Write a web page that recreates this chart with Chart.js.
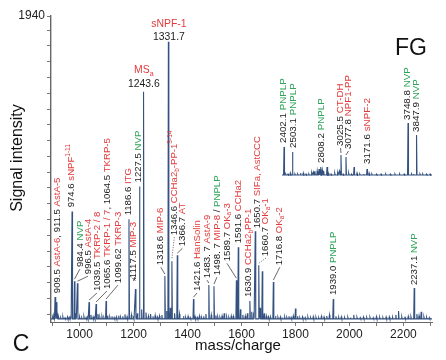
<!DOCTYPE html>
<html>
<head>
<meta charset="utf-8">
<script src="https://cdn.jsdelivr.net/npm/chart.js@4.4.1/dist/chart.umd.min.js"></script>
<style>
  html, body { margin: 0; padding: 0; background: #fff; }
  #wrap { position: relative; width: 446px; height: 360px; }
  #main { position: absolute; left: 0; top: 0; }
  #inset { position: absolute; left: 270px; top: 40px; }
</style>
</head>
<body>
<div id="wrap">
  <canvas id="main" width="446" height="360"></canvas>
  <canvas id="inset" width="176" height="140"></canvas>
</div>
<script>
// ---- main spectrum (m/z 900-2300) ----
const peakMz  = [909, 914, 972, 981, 992, 1035, 1061, 1098, 1183, 1207, 1222, 1237, 1316, 1329,
                 1342, 1362, 1422, 1479, 1498, 1581, 1588, 1631, 1651, 1664, 1677, 1718, 1940, 2240];
const peakInt = [158, 126, 701, 259, 246, 126, 114, 133, 651, 209, 859, 1460, 291, 1776,
                 385, 423, 145, 234, 227, 265, 474, 133, 575, 360, 322, 253, 145, 215];

// small peaks of the baseline, [m/z, intensity]
const mainNoise = [
  [900,30],[905,38],[918,45],[922,32],[930,28],[938,34],[946,27],[955,33],[962,29],[967,40],
  [986,55],[1000,32],[1008,28],[1016,35],[1024,29],[1030,40],[1042,45],[1050,32],[1056,36],
  [1068,50],[1075,32],[1083,34],[1090,29],[1104,40],[1112,32],[1120,36],[1128,29],[1136,33],
  [1145,40],[1152,30],[1160,36],[1168,48],[1176,34],[1192,45],[1200,36],[1214,55],[1230,80],
  [1246,60],[1255,38],[1263,50],[1272,36],[1280,42],[1288,32],[1296,38],[1305,44],[1322,70],
  [1336,90],[1352,55],[1370,50],[1385,38],[1393,30],[1402,36],[1410,28],[1428,34],[1436,30],
  [1444,38],[1452,29],[1460,36],[1468,50],[1488,45],[1505,42],[1512,33],[1520,30],[1528,38],
  [1536,55],[1545,33],[1553,30],[1562,38],[1570,36],[1596,80],[1605,45],[1614,38],[1622,55],
  [1638,65],[1645,60],[1669,90],[1684,55],[1692,38],[1700,33],[1708,30],[1726,38],[1735,30],
  [1744,33],[1752,28],[1760,32],[1768,29],[1776,36],[1784,30],[1792,38],[1800,85],[1808,36],
  [1816,28],[1826,33],[1836,29],[1846,32],[1856,28],[1866,34],[1876,30],[1886,28],[1896,36],
  [1906,32],[1916,38],[1926,45],[1950,36],[1960,30],[1970,33],[1982,28],[1994,30],[2004,29],
  [2016,45],[2028,30],[2040,28],[2052,32],[2064,29],[2076,30],[2088,28],[2100,34],[2112,30],
  [2124,28],[2136,32],[2148,33],[2160,30],[2172,45],[2182,70],[2194,33],[2206,30],[2218,36],
  [2228,33],[2250,50],[2258,40],[2266,65],[2276,33],[2286,30],[2296,28]
];
const mainBase = 20;

const xTicks = [900, 1000, 1100, 1200, 1300, 1400, 1500, 1600, 1700, 1800, 1900, 2000, 2100, 2200, 2300];
const xTickLabels = ['1000', '1200', '1400', '1600', '1800', '2000', '2200'];
const yTicks = [1940, 1850, 1750, 1650, 1550, 1450, 1350, 1250, 1150, 1050, 950, 850, 750,
                650, 550, 450, 350, 250, 150, 50];
const yTickLabels = ['1940'];

// ---- inset spectrum (m/z 2400-4000) ----
const insetMz  = [2402, 2493, 2801, 3017, 3071, 3158, 3298, 3741, 3833];
const insetInt = [29, 24, 9, 21, 19, 9, 7, 53, 41];
const insetNoise = [
  [2420,2],[2445,2],[2470,3],[2520,2],[2550,2],[2580,3],[2610,3],[2640,2],[2670,2],[2700,3],
  [2718,4],[2735,5],[2760,5],[2780,7],[2790,5],[2815,6],[2830,5],[2866,9],[2880,3],[2910,2],
  [2950,3],[2980,3],[3000,5],[3040,2],[3100,3],[3130,2],[3190,3],[3220,2],[3260,2],[3320,3],
  [3350,2],[3400,2],[3450,2],[3500,2],[3550,2],[3600,2],[3650,2],[3700,2],[3780,2],[3800,2],
  [3870,2],[3900,2],[3940,2],[3980,2]
];
const insetBase = 1;

// ---- peak labels (text layout, anchored in data units) ----
const mainLabels = [
  {peak: 0,  at: [918, 183],  parts: [['909.5 '], ['AstA-6', 'r'], [', 911.5 '], ['AstA-5', 'r']]},
  {peak: 2,  at: [970, 727],  parts: [['974.6 '], ['sNPF', 'r'], ['1-11', 'r', 'sup']]},
  {peak: 3,  at: [1001, 348], lead: 1, parts: [['984.4 '], ['NVP', 'g']]},
  {peak: 4,  at: [1031, 303], lead: 1, parts: [['996.5 '], ['AstA-4', 'r']]},
  {peak: 5,  at: [1064, 196], lead: 1, parts: [['1039.5 '], ['TKRP-2 / 8', 'r']]},
  {peak: 6,  at: [1101, 209], lead: 1, parts: [['1065.6 '], ['TKRP-1 / 7', 'r'], [', 1064.5 '], ['TKRP-5', 'r']]},
  {peak: 7,  at: [1142, 246], lead: 1, parts: [['1099.62 '], ['TKRP-3', 'r']]},
  {peak: 9,  at: [1198, 278], parts: [['1117.5 '], ['MIP-3', 'r']]},
  {peak: 8,  at: [1179, 676], parts: [['1186.6 '], ['ITG', 'r']]},
  {peak: 10, at: [1216, 885], parts: [['1227.5 '], ['NVP', 'g']]},
  {peak: 12, at: [1301, 360], lead: 1, parts: [['1318.6 '], ['MIP-6', 'r']]},
  {peak: 14, at: [1351, 550], lead: 2, parts: [['1346.6 '], ['CCHa2', 'r'], ['b', 'r', 'sub'], ['-PP-1', 'r'], ['3-14', 'r', 'sup']]},
  {peak: 15, at: [1381, 480], lead: 1, parts: [['1366.7 '], ['AT', 'r']]},
  {peak: 16, at: [1435, 196], lead: 1, parts: [['1421.6 '], ['HanSolin', 'r']]},
  {peak: 17, at: [1472, 278], lead: 1, parts: [['1483. 7 '], ['AstA-9', 'r']]},
  {peak: 18, at: [1509, 297], lead: 1, parts: [['1498. 7 '], ['MIP-8', 'r'], [' / '], ['PNPLP', 'g']]},
  {peak: 19, at: [1546, 385], lead: 1, parts: [['1589.7 '], ['OK', 'r'], ['a', 'r', 'sub'], ['-3', 'r']]},
  {peak: 20, at: [1590, 499], parts: [['1591.6 '], ['CCHa2', 'r']]},
  {peak: 21, at: [1627, 158], parts: [['1630.9 '], ['CCHa2', 'r'], ['b', 'r', 'sub'], ['PP-1', 'r']]},
  {peak: 22, at: [1657, 594], parts: [['1650.7 '], ['SIFa, AstCCC', 'r']]},
  {peak: 23, at: [1690, 417], lead: 2, parts: [['1660.7 '], ['OK', 'r'], ['a', 'r', 'sub'], ['-1', 'r']]},
  {peak: 25, at: [1742, 360], lead: 1, parts: [['1716.8 '], ['OK', 'r'], ['a', 'r', 'sub'], ['-2', 'r']]},
  {peak: 26, at: [1940, 171], parts: [['1939.0 '], ['PNPLP', 'g']]},
  {peak: 27, at: [2242, 234], parts: [['2237.1 '], ['NVP', 'g']]},
  {flat: 1,  at: [1203, 235], parts: [['*']]},
  {flat: 1,  at: [1238, 1490], parts: [['1243.6']]},
  {flat: 1,  at: [1238, 1578], parts: [['MS', 'r'], ['a', 'r', 'sub']]},
  {flat: 1,  at: [1331, 1790], parts: [['1331.7']]},
  {flat: 1,  at: [1331, 1872], parts: [['sNPF-1', 'r']]}
];

const insetLabels = [
  {peak: 0, at: [2396, 33], parts: [['2402.1 '], ['PNPLP', 'g']]},
  {peak: 1, at: [2499, 28], parts: [['2503.1 '], ['PNPLP', 'g']]},
  {peak: 2, at: [2801, 13], parts: [['2808.2 '], ['PNPLP', 'g']]},
  {peak: 3, at: [3012, 30], lead: 1, parts: [['3025.5 '], ['CT-DH', 'r']]},
  {peak: 4, at: [3098, 27], lead: 1, parts: [['3077.8 '], ['NPF1-PP', 'r']]},
  {peak: 6, at: [3298, 12], parts: [['3171.6 '], ['sNPF-2', 'r']]},
  {peak: 7, at: [3735, 56], parts: [['3748.8 '], ['NVP', 'g']]},
  {peak: 8, at: [3833, 44], parts: [['3847.9 '], ['NVP', 'g']]}
];

const COLORS = {k: '#1c1c1c', r: '#e23a3c', g: '#2fa45a'};
const FONT = '"Liberation Sans", Arial, sans-serif';
const LINE = '#34517f';

function spikes(mz, inten, noise, base, half, min, max) {
  const pts = mz.map((m, i) => [m, inten[i]]).concat(noise);
  pts.sort((a, b) => a[0] - b[0]);
  const out = [{x: min, y: base}];
  pts.forEach(([m, h]) => {
    out.push({x: m - half, y: base}, {x: m, y: h}, {x: m + half, y: base});
  });
  out.push({x: max, y: base});
  return out;
}

// rich text: vertical labels read bottom-to-top from (x, y); flat ones centred on x
function drawRich(ctx, parts, x, y, size, flat) {
  ctx.save();
  ctx.translate(x, y);
  let pos = 0;
  const widths = parts.map(p => {
    ctx.font = (p[2] ? size * 0.68 : size) + 'px ' + FONT;
    return ctx.measureText(p[0]).width;
  });
  if (flat) {
    pos = -widths.reduce((a, b) => a + b, 0) / 2;
    ctx.textBaseline = 'alphabetic';
  } else {
    ctx.rotate(-Math.PI / 2);
    ctx.textBaseline = 'middle';
  }
  ctx.textAlign = 'left';
  parts.forEach((p, i) => {
    const small = !!p[2];
    ctx.font = (small ? size * 0.68 : size) + 'px ' + FONT;
    ctx.fillStyle = COLORS[p[1] || 'k'];
    let dy = 0;
    if (p[2] === 'sup') dy = -size * 0.38;
    if (p[2] === 'sub') dy = size * 0.28;
    ctx.fillText(p[0], pos, dy);
    pos += widths[i];
  });
  ctx.restore();
}

function labelPlugin(labels, mz, inten, size) {
  return {
    id: 'peakLabels',
    afterDatasetsDraw(chart) {
      const {ctx, scales: {x, y}} = chart;
      labels.forEach(a => {
        const lx = x.getPixelForValue(a.at[0]);
        const ly = y.getPixelForValue(a.at[1]);
        if (a.lead) {
          const px = x.getPixelForValue(mz[a.peak]);
          const py = y.getPixelForValue(inten[a.peak]);
          ctx.save();
          ctx.strokeStyle = '#444';
          ctx.lineWidth = 0.8;
          if (a.lead === 2) ctx.setLineDash([1, 1.5]);
          ctx.beginPath();
          ctx.moveTo(lx, ly + 2);
          ctx.lineTo(px, py - 2);
          ctx.stroke();
          ctx.restore();
        }
        drawRich(ctx, a.parts, lx, ly, a.flat ? size + 0.8 : size, a.flat);
      });
    }
  };
}

const frameText = {
  id: 'frameText',
  afterDraw(chart) {
    const ctx = chart.ctx;
    ctx.save();
    ctx.fillStyle = '#111';
    ctx.textAlign = 'center';
    ctx.textBaseline = 'alphabetic';
    ctx.font = '15px ' + FONT;
    ctx.fillText('mass/charge', 238, 350);
    ctx.font = '23px ' + FONT;
    ctx.fillText('C', 21, 351);
    ctx.font = '23px ' + FONT;
    ctx.fillText('FG', 411, 55);
    ctx.translate(22, 158);
    ctx.rotate(-Math.PI / 2);
    ctx.font = '16px ' + FONT;
    ctx.fillText('Signal intensity', 0, 0);
    ctx.restore();
  }
};

new Chart(document.getElementById('main'), {
  type: 'line',
  data: {
    datasets: [{
      data: spikes(peakMz, peakInt, mainNoise, mainBase, 1.8, 894, 2306),
      borderColor: LINE,
      borderWidth: 1.1,
      pointRadius: 0,
      tension: 0
    }]
  },
  options: {
    responsive: false,
    animation: false,
    devicePixelRatio: 1,
    layout: {padding: {left: 0, right: 14, top: 16, bottom: 0}},
    plugins: {legend: {display: false}, tooltip: {enabled: false}},
    scales: {
      x: {
        type: 'linear', min: 894, max: 2306,
        afterBuildTicks: s => { s.ticks = xTicks.map(v => ({value: v})); },
        afterFit: s => { s.height = 38; },
        ticks: {
          autoSkip: false, maxRotation: 0, padding: 1, color: '#222',
          font: {family: FONT, size: 12},
          callback: v => xTickLabels.includes(String(v)) ? String(v) : ''
        },
        grid: {drawOnChartArea: false, tickLength: 4, color: '#777'},
        border: {color: '#666', width: 1}
      },
      y: {
        type: 'linear', min: 0, max: 1940,
        afterBuildTicks: s => { s.ticks = yTicks.map(v => ({value: v})); },
        afterFit: s => { s.width = 51; },
        ticks: {
          autoSkip: false, padding: 2, color: '#222',
          font: {family: FONT, size: 12},
          callback: v => yTickLabels.includes(String(v)) ? String(v) : ''
        },
        grid: {drawOnChartArea: false, tickLength: 4, color: '#777'},
        border: {color: '#666', width: 1.4}
      }
    }
  },
  plugins: [labelPlugin(mainLabels, peakMz, peakInt, 9.6), frameText]
});

new Chart(document.getElementById('inset'), {
  type: 'line',
  data: {
    datasets: [{
      data: spikes(insetMz, insetInt, insetNoise, insetBase, 5, 2380, 4000),
      borderColor: LINE,
      borderWidth: 1.1,
      pointRadius: 0,
      tension: 0
    }]
  },
  options: {
    responsive: false,
    animation: false,
    devicePixelRatio: 1,
    layout: {padding: {left: 12, right: 14, top: 36, bottom: 4}},
    plugins: {legend: {display: false}, tooltip: {enabled: false}},
    scales: {
      x: {type: 'linear', min: 2380, max: 4000, display: false},
      y: {type: 'linear', min: 0, max: 100, display: false}
    }
  },
  plugins: [labelPlugin(insetLabels, insetMz, insetInt, 9.8)]
});
</script>
</body>
</html>
